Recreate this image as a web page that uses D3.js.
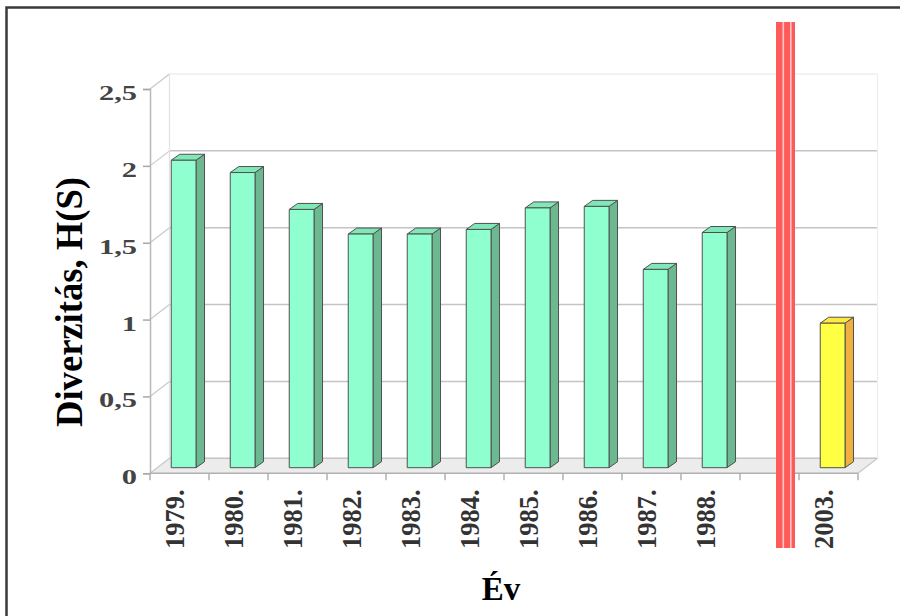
<!DOCTYPE html>
<html>
<head>
<meta charset="utf-8">
<script src="https://cdn.jsdelivr.net/npm/d3@7"></script>
<style>
  html, body { margin: 0; padding: 0; background: #fff; }
  svg { display: block; }
</style>
</head>
<body>
<svg id="chart" width="900" height="616"></svg>
<script>
// Shannon diversity by year; the empty slot separates the 1980s series from 2003
const categories = ["1979.", "1980.", "1981.", "1982.", "1983.", "1984.", "1985.", "1986.", "1987.", "1988.", "", "2003."];
const diversity  = [2.00, 1.92, 1.68, 1.52, 1.52, 1.55, 1.69, 1.70, 1.29, 1.53, null, 0.94];
const recentCategory = "2003.";
const gapCategory = "";
const yTicks = [0, 0.5, 1, 1.5, 2, 2.5];
const yTickLabels = ["0", "0,5", "1", "1,5", "2", "2,5"];
const yTitle = "Diverzitás, H(S)";
const xTitle = "Év";

const FONT = '"Liberation Serif", "Times New Roman", Tinos, serif';
const svg = d3.select("#chart");

// Front plane of the 3-D box and depth offset of the back wall
const x = d3.scaleBand().domain(categories).range([150, 858]).padding(0);
const y = d3.scaleLinear().domain([0, 2.5]).range([473.3, 89]);
const depth = { dx: 19.5, dy: -15 };
const barDepth = { dx: 8.5, dy: -6 };
const barLift = -5.6;   // bars stand a little behind the front edge of the floor

const grid = svg.append("g");
const x0 = x.range()[0], x1 = x.range()[1];

// Floor
grid.append("path")
  .attr("d", `M${x0},${y(0)} L${x1},${y(0)} L${x1 + depth.dx},${y(0) + depth.dy} L${x0 + depth.dx},${y(0) + depth.dy} Z`)
  .attr("fill", "#ececec");

// Back wall gridlines
grid.selectAll("line.back").data(yTicks).join("line")
  .attr("x1", x0 + depth.dx).attr("x2", x1 + depth.dx)
  .attr("y1", d => y(d) + depth.dy).attr("y2", d => y(d) + depth.dy)
  .attr("stroke", d => d === 2.5 ? "#eeeeee" : "#c4c4c4")
  .attr("stroke-width", 1.5);

// Side wall diagonals
grid.selectAll("line.side").data(yTicks).join("line")
  .attr("x1", x0).attr("x2", x0 + depth.dx)
  .attr("y1", d => y(d)).attr("y2", d => y(d) + depth.dy)
  .attr("stroke", "#c8c8c8").attr("stroke-width", 1.2);

// Back wall edges
grid.append("line")
  .attr("x1", x0 + depth.dx).attr("x2", x0 + depth.dx)
  .attr("y1", y(2.5) + depth.dy).attr("y2", y(0) + depth.dy)
  .attr("stroke", "#e2e2e2").attr("stroke-width", 1.2);
grid.append("line")
  .attr("x1", x1 + depth.dx).attr("x2", x1 + depth.dx)
  .attr("y1", y(2.5) + depth.dy).attr("y2", y(0) + depth.dy)
  .attr("stroke", "#eeeeee").attr("stroke-width", 1.2);
grid.append("line")
  .attr("x1", x1).attr("x2", x1 + depth.dx)
  .attr("y1", y(0)).attr("y2", y(0) + depth.dy)
  .attr("stroke", "#c8c8c8").attr("stroke-width", 1.2);

// Y axis (front-left edge)
const yAxis = d3.axisLeft(y).tickValues(yTicks).tickSize(7).tickFormat("");
const yg = svg.append("g").attr("transform", `translate(${x0},0)`).call(yAxis);
yg.select(".domain").attr("stroke", "#b8b8b8").attr("stroke-width", 1.5);
yg.selectAll(".tick line").attr("stroke", "#a8a8a8").attr("stroke-width", 1.5);

svg.append("g").selectAll("text").data(yTicks).join("text")
  .attr("transform", d => `translate(137,${y(d) + 11}) scale(1.45,1)`)
  .attr("text-anchor", "end")
  .style("font-family", FONT).style("font-weight", "bold").style("font-size", "21px")
  .attr("fill", "#444")
  .text((d, i) => yTickLabels[i]);

// X axis (front floor edge) with ticks at category boundaries
const xg = svg.append("g");
xg.append("line")
  .attr("x1", x0).attr("x2", x1).attr("y1", y(0)).attr("y2", y(0))
  .attr("stroke", "#b0b0b0").attr("stroke-width", 1.5);
xg.selectAll("line.tick").data(categories.concat(["end"])).join("line")
  .attr("x1", (d, i) => x0 + i * x.bandwidth())
  .attr("x2", (d, i) => x0 + i * x.bandwidth())
  .attr("y1", y(0)).attr("y2", y(0) + 7)
  .attr("stroke", "#b0b0b0").attr("stroke-width", 1.5);

xg.selectAll("text").data(categories.filter(c => c !== gapCategory)).join("text")
  .attr("transform", d => `translate(${x(d) + x.bandwidth() / 2 - 5},${y(0) + 16}) rotate(-90)`)
  .attr("text-anchor", "end")
  .attr("dy", "0.35em")
  .style("font-family", FONT).style("font-weight", "bold").style("font-size", "26.5px")
  .attr("fill", "#333")
  .text(d => d);

// 3-D bars
const palette = {
  normal: { front: "#90ffd0", side: "#6cb890", top: "#80e8b8" },
  recent: { front: "#ffff44", side: "#f0b040", top: "#ffe840" }
};
const barData = categories.map((c, i) => ({ c, v: diversity[i] })).filter(d => d.v !== null);
const bars = svg.append("g").selectAll("g").data(barData).join("g")
  .attr("stroke", "#505050").attr("stroke-width", 1).attr("stroke-linejoin", "round");

const frontLeft = d => x(d.c) + x.bandwidth() * 0.36;
const barW = x.bandwidth() * 0.42;
const base = y(0) + barLift;
const topY = d => y(d.v) + barLift;
const col = d => d.c === recentCategory ? palette.recent : palette.normal;

bars.append("path")
  .attr("d", d => {
    const l = frontLeft(d), r = l + barW, t = topY(d);
    return `M${r},${base} L${r + barDepth.dx},${base + barDepth.dy} L${r + barDepth.dx},${t + barDepth.dy} L${r},${t} Z`;
  })
  .attr("fill", d => col(d).side);
bars.append("path")
  .attr("d", d => {
    const l = frontLeft(d), r = l + barW, t = topY(d);
    return `M${l},${t} L${l + barDepth.dx},${t + barDepth.dy} L${r + barDepth.dx},${t + barDepth.dy} L${r},${t} Z`;
  })
  .attr("fill", d => col(d).top);
bars.append("rect")
  .attr("x", d => frontLeft(d))
  .attr("y", d => topY(d))
  .attr("width", barW)
  .attr("height", d => base - topY(d))
  .attr("fill", d => col(d).front);

// Break marker between the two periods
const gx = x(gapCategory);
const brk = svg.append("g");
brk.append("rect")
  .attr("x", gx + 36).attr("y", 22).attr("width", 19).attr("height", 526)
  .attr("fill", "#ff5a5a");
[42.5, 50].forEach(o => {
  brk.append("rect")
    .attr("x", gx + o).attr("y", 22).attr("width", 1.6).attr("height", 526)
    .attr("fill", "#ffc4c4");
});

// Axis titles
svg.append("text")
  .attr("transform", "translate(82,427) rotate(-90)")
  .attr("text-anchor", "start")
  .style("font-family", FONT).style("font-weight", "bold").style("font-size", "38px")
  .attr("textLength", 250)
  .attr("lengthAdjust", "spacingAndGlyphs")
  .attr("fill", "#000")
  .text(yTitle);

svg.append("text")
  .attr("x", 501).attr("y", 600)
  .attr("text-anchor", "middle")
  .style("font-family", FONT).style("font-weight", "bold").style("font-size", "33px")
  .attr("fill", "#000")
  .text(xTitle);

// Outer frame (top and left edges)
svg.append("path")
  .attr("d", "M6.5,616 V7.5 H900")
  .attr("fill", "none")
  .attr("stroke", "#3a3a3a")
  .attr("stroke-width", 2.5);
</script>
</body>
</html>
